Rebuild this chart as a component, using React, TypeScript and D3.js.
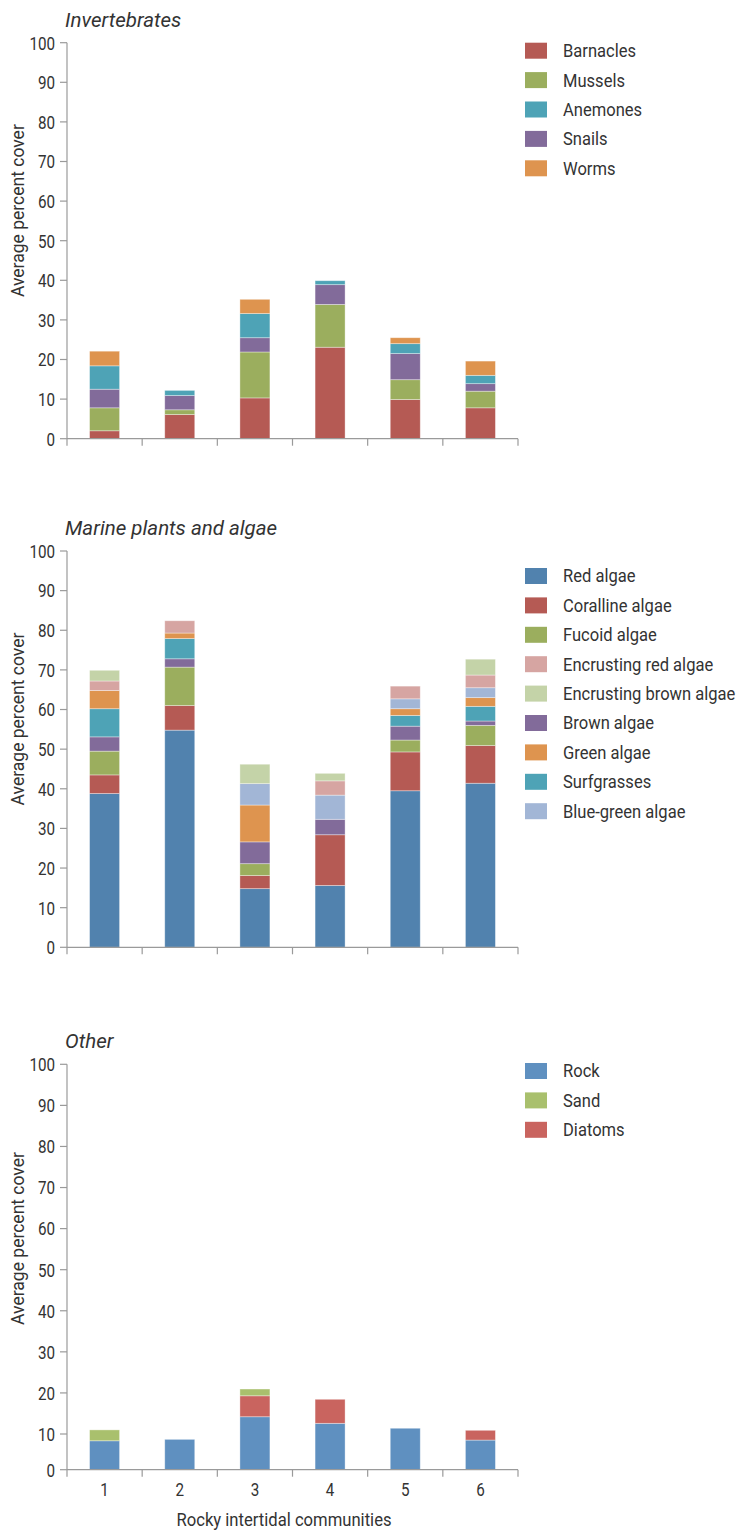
import React, { useEffect } from "react";
import * as d3 from "d3";

// ---------- data ----------
const communities = ["1", "2", "3", "4", "5", "6"];
const yTicks = [0, 10, 20, 30, 40, 50, 60, 70, 80, 90, 100];

// Invertebrates
const barnacles = [2.0, 6.1, 10.3, 23.1, 9.9, 7.8];
const mussels = [5.8, 1.2, 11.6, 10.8, 5.0, 4.2];
const snails = [4.7, 3.6, 3.6, 5.0, 6.6, 1.9];
const anemones = [5.9, 1.3, 6.1, 1.0, 2.5, 2.1];
const worms = [3.7, 0, 3.6, 0, 1.5, 3.6];

// Marine plants and algae
const redAlgae = [38.8, 54.8, 14.8, 15.6, 39.5, 41.4];
const corallineAlgae = [4.7, 6.2, 3.3, 12.8, 9.8, 9.5];
const fucoidAlgae = [6.0, 9.7, 3.0, 0, 3.0, 5.1];
const brownAlgae = [3.6, 2.1, 5.5, 3.9, 3.5, 1.1];
const surfgrasses = [7.1, 5.1, 0, 0, 2.7, 3.7];
const greenAlgae = [4.6, 1.4, 9.3, 0, 1.7, 2.2];
const blueGreenAlgae = [0, 0, 5.4, 6.1, 2.5, 2.5];
const encrustingRedAlgae = [2.4, 3.1, 0, 3.6, 3.2, 3.2];
const encrustingBrownAlgae = [2.7, 0, 4.9, 1.9, 0, 4.0];

// Other
const rock = [8.1, 8.5, 14.2, 12.6, 11.4, 8.3];
const diatoms = [0, 0, 5.1, 5.85, 0, 2.6];
const sand = [2.9, 0, 1.65, 0, 0, 0];

type Series = { name: string; values: number[]; color: string };

const invertSeries: Series[] = [
  { name: "Barnacles", values: barnacles, color: "#b55a54" },
  { name: "Mussels", values: mussels, color: "#9bae5e" },
  { name: "Snails", values: snails, color: "#826b9a" },
  { name: "Anemones", values: anemones, color: "#4ea3b6" },
  { name: "Worms", values: worms, color: "#de944f" },
];
const invertLegend = ["Barnacles", "Mussels", "Anemones", "Snails", "Worms"];

const algaeSeries: Series[] = [
  { name: "Red algae", values: redAlgae, color: "#5182ae" },
  { name: "Coralline algae", values: corallineAlgae, color: "#b55a54" },
  { name: "Fucoid algae", values: fucoidAlgae, color: "#9bae5e" },
  { name: "Brown algae", values: brownAlgae, color: "#826b9a" },
  { name: "Surfgrasses", values: surfgrasses, color: "#4ea3b6" },
  { name: "Green algae", values: greenAlgae, color: "#de944f" },
  { name: "Blue-green algae", values: blueGreenAlgae, color: "#a2b6d6" },
  { name: "Encrusting red algae", values: encrustingRedAlgae, color: "#d6a5a2" },
  { name: "Encrusting brown algae", values: encrustingBrownAlgae, color: "#c4d3a8" },
];
const algaeLegend = [
  "Red algae",
  "Coralline algae",
  "Fucoid algae",
  "Encrusting red algae",
  "Encrusting brown algae",
  "Brown algae",
  "Green algae",
  "Surfgrasses",
  "Blue-green algae",
];

const otherSeries: Series[] = [
  { name: "Rock", values: rock, color: "#5f90c0" },
  { name: "Diatoms", values: diatoms, color: "#c9645f" },
  { name: "Sand", values: sand, color: "#a9c06d" },
];
const otherLegend = ["Rock", "Sand", "Diatoms"];

// ---------- layout ----------
const W = 740;
const H = 1532;
const FONT = "Roboto, 'Open Sans', sans-serif";
const AXIS = "#9a9a9a";
const TEXT = "#333333";

type PanelProps = {
  title: string;
  series: Series[];
  legend: string[];
  yDomain: number[];
  yRange: number[];
  legendTop: number;
  showXLabels: boolean;
};

const x = d3.scaleBand<string>().domain(communities).range([67, 518]).paddingInner(0).paddingOuter(0);
const barW = 30;

function Panel({ title, series, legend, yDomain, yRange, legendTop, showXLabels }: PanelProps) {
  const y = d3.scaleLinear().domain(yDomain).range(yRange);
  const rows = communities.map((c, i) => {
    const r: any = { c };
    series.forEach((s) => (r[s.name] = s.values[i]));
    return r;
  });
  const stack = d3.stack<any>().keys(series.map((s) => s.name))(rows);
  const colorOf = (n: string) => series.find((s) => s.name === n)!.color;
  const y0 = y(0);
  const y100 = y(100);
  const x0 = x.range()[0];
  const x1 = x.range()[1];
  const labelY = y(57.6);

  return (
    <g>
      <text x={65} y={y100 - 16} fontFamily={FONT} fontStyle="italic" fontSize={20.5} fill={TEXT}>
        {title}
      </text>
      <text
        transform={`translate(24,${labelY}) rotate(-90)`}
        textAnchor="middle"
        fontFamily={FONT}
        fontSize={17.5}
        fill={TEXT}
      >
        Average percent cover
      </text>
      {stack.map((layer) => (
        <g key={layer.key} fill={colorOf(layer.key)}>
          {layer.map((d, i) =>
            d[1] - d[0] > 0 ? (
              <rect
                key={i}
                x={(x(communities[i]) as number) + x.bandwidth() / 2 - barW / 2}
                y={y(d[1])}
                width={barW}
                height={y(d[0]) - y(d[1])}
                stroke="#ffffff"
                strokeOpacity={0.45}
                strokeWidth={0.8}
              />
            ) : null
          )}
        </g>
      ))}
      {/* y axis */}
      <line x1={x0} x2={x0} y1={y100} y2={y0} stroke={AXIS} strokeWidth={1.2} />
      {yTicks.map((t) => (
        <g key={t}>
          <line x1={x0 - 7} x2={x0} y1={y(t)} y2={y(t)} stroke={AXIS} strokeWidth={1.2} />
          <text
            transform={`translate(${x0 - 12},${y(t)}) scale(0.8,1)`}
            dy="0.36em"
            textAnchor="end"
            fontFamily={FONT}
            fontSize={19}
            fill={TEXT}
          >
            {t}
          </text>
        </g>
      ))}
      {/* x axis */}
      <line x1={x0} x2={x1} y1={y0} y2={y0} stroke={AXIS} strokeWidth={1.2} />
      {d3.range(communities.length + 1).map((i) => {
        const xx = x0 + i * x.bandwidth();
        return <line key={i} x1={xx} x2={xx} y1={y0} y2={y0 + 7} stroke={AXIS} strokeWidth={1.2} />;
      })}
      {showXLabels &&
        communities.map((c) => (
          <text
            key={c}
            transform={`translate(${(x(c) as number) + x.bandwidth() / 2},${y0 + 26}) scale(0.8,1)`}
            textAnchor="middle"
            fontFamily={FONT}
            fontSize={19}
            fill={TEXT}
          >
            {c}
          </text>
        ))}
      {/* legend */}
      {legend.map((n, i) => (
        <g key={n} transform={`translate(525,${legendTop + i * 29.4})`}>
          <rect x={0} y={-8} width={22} height={16} fill={colorOf(n)} />
          <text
            transform="translate(38,0) scale(0.92,1)"
            dy="0.36em"
            fontFamily={FONT}
            fontSize={18}
            fill={TEXT}
          >
            {n}
          </text>
        </g>
      ))}
    </g>
  );
}

export default function App() {
  useEffect(() => {
    document.body.style.margin = "0";
  }, []);
  return (
    <svg width={W} height={H} viewBox={`0 0 ${W} ${H}`} style={{ display: "block", background: "#fff" }}>
      <Panel
        title="Invertebrates"
        series={invertSeries}
        legend={invertLegend}
        yDomain={[0, 100]}
        yRange={[438.7, 42.7]}
        legendTop={50.7}
        showXLabels={false}
      />
      <Panel
        title="Marine plants and algae"
        series={algaeSeries}
        legend={algaeLegend}
        yDomain={[0, 100]}
        yRange={[947.3, 551]}
        legendTop={576}
        showXLabels={false}
      />
      <Panel
        title="Other"
        series={otherSeries}
        legend={otherLegend}
        yDomain={[0, 10, 100]}
        yRange={[1469.7, 1434, 1064.3]}
        legendTop={1071}
        showXLabels={true}
      />
      <text
        transform="translate(284,1526) scale(0.9,1)"
        textAnchor="middle"
        fontFamily={FONT}
        fontSize={18.5}
        fill={TEXT}
      >
        Rocky intertidal communities
      </text>
    </svg>
  );
}
